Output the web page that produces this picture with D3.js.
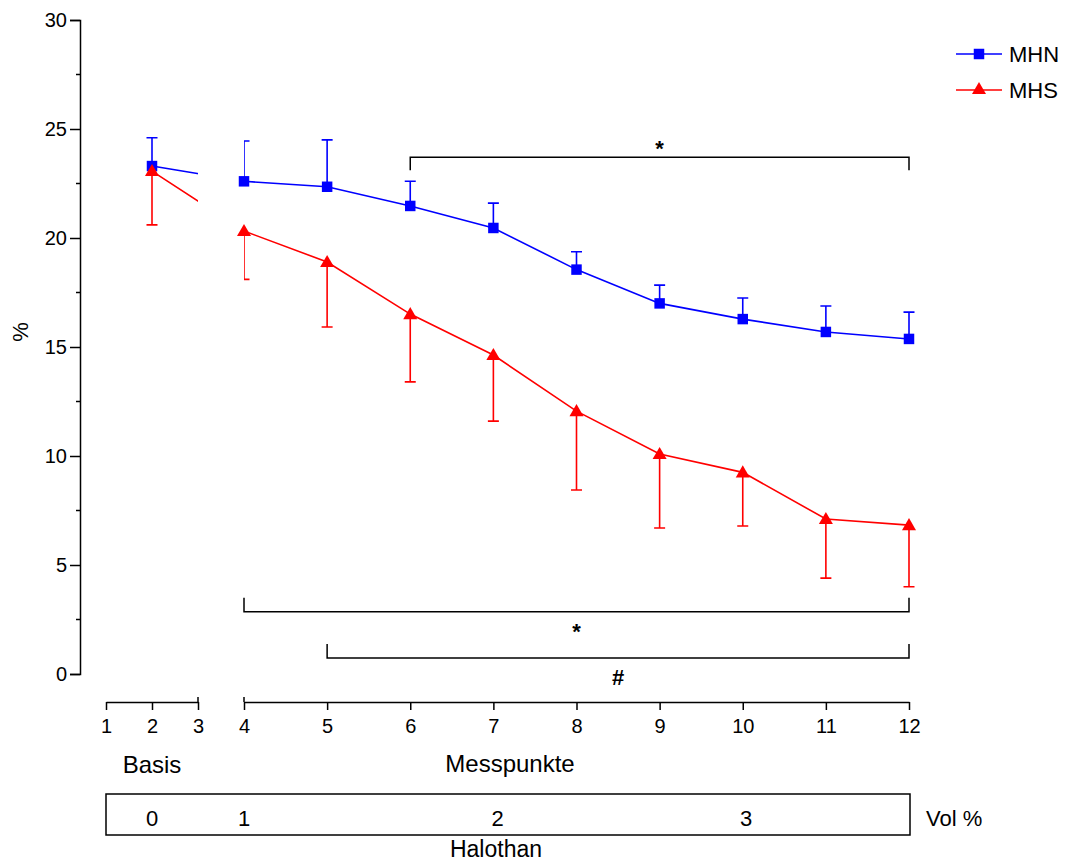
<!DOCTYPE html>
<html>
<head>
<meta charset="utf-8">
<script src="https://cdnjs.cloudflare.com/ajax/libs/d3/7.8.5/d3.min.js"></script>
<style>
  body { margin: 0; background: #fff; }
  svg text { font-family: "Liberation Sans", Arial, sans-serif; fill: #000; }
</style>
</head>
<body>
<svg id="chart" width="1068" height="863"></svg>
<script>
// measuring points (x) and values in %
var points = [2, 4, 5, 6, 7, 8, 9, 10, 11, 12];
var mhn = [23.3, 22.6, 22.35, 21.47, 20.46, 18.55, 17.0, 16.28, 15.69, 15.37];
var mhnErr = [1.3, 1.85, 2.15, 1.13, 1.14, 0.82, 0.84, 0.97, 1.19, 1.23];
var mhs = [23.07, 20.32, 18.9, 16.51, 14.63, 12.06, 10.09, 9.25, 7.11, 6.83];
var mhsErr = [2.47, 2.22, 2.98, 3.11, 3.03, 3.62, 3.39, 2.46, 2.71, 2.83];

var basisTicks = [1, 2, 3];
var mainTicks = [4, 5, 6, 7, 8, 9, 10, 11, 12];
var yTicks = [0, 5, 10, 15, 20, 25, 30];
var yMinor = [2.5, 7.5, 12.5, 17.5, 22.5, 27.5];

// halothan concentration labels (Vol %) and where they sit
var halothanVol = ["0", "1", "2", "3"];
var halothanAt = [2, 4, 7.05, 10.04];

// significance brackets: from, to, level (%), label
var brackets = [
  {from: 6, to: 12, y: 23.7, label: "*", above: true},
  {from: 4, to: 12, y: 2.85, label: "*", above: false},
  {from: 5, to: 12, y: 0.73, label: "#", above: false}
];

var svg = d3.select("#chart");

var y = d3.scaleLinear().domain([0, 30]).range([674, 20]);
var xb = d3.scaleLinear().domain([1, 3]).range([106, 198]);
var xm = d3.scaleLinear().domain([4, 12]).range([244, 909]);
function px(v) { return v <= 3 ? xb(v) : xm(v); }

// clip regions for the two axis segments (the break hides the gap)
var defs = svg.append("defs");
var clip = defs.append("clipPath").attr("id", "segs");
clip.append("rect").attr("x", xb(1) - 10).attr("y", 0)
  .attr("width", xb(3) - xb(1) + 10).attr("height", 700);
clip.append("rect").attr("x", xm(4)).attr("y", 0)
  .attr("width", xm(12) - xm(4) + 10).attr("height", 700);

// y axis
var yAxis = svg.append("g").attr("transform", "translate(80,0)")
  .call(d3.axisLeft(y).tickValues(yTicks).tickSize(10).tickPadding(3).tickFormat(d3.format("d")));
yAxis.select(".domain").attr("stroke-width", 1.5);
yAxis.selectAll(".tick line").attr("stroke-width", 1.5);
yAxis.selectAll("text").style("font-size", "20px").attr("font-family", null);
svg.append("g").selectAll("line").data(yMinor).join("line")
  .attr("x1", 76).attr("x2", 80)
  .attr("y1", d => y(d)).attr("y2", d => y(d))
  .attr("stroke", "#000").attr("stroke-width", 1.5);

svg.append("text").attr("transform", "translate(28,332) rotate(-90)")
  .attr("text-anchor", "middle").style("font-size", "22px").text("%");

// x axis, two segments
function styleX(g) {
  g.select(".domain").attr("stroke-width", 1.5);
  g.selectAll(".tick line").attr("stroke-width", 1.5);
  g.selectAll("text").style("font-size", "20px").attr("font-family", null);
}
svg.append("g").attr("transform", "translate(0,702)")
  .call(d3.axisBottom(xb).tickValues(basisTicks).tickSize(8).tickSizeOuter(0).tickPadding(9).tickFormat(d3.format("d")))
  .call(styleX);
svg.append("g").attr("transform", "translate(0,702)")
  .call(d3.axisBottom(xm).tickValues(mainTicks).tickSize(8).tickSizeOuter(0).tickPadding(9).tickFormat(d3.format("d")))
  .call(styleX);
// break marks at the inner ends
svg.append("g").selectAll("line").data([xb(3), xm(4)]).join("line")
  .attr("x1", d => d).attr("x2", d => d).attr("y1", 697).attr("y2", 702)
  .attr("stroke", "#000").attr("stroke-width", 1.5);

svg.append("text").attr("x", xb(2)).attr("y", 773).attr("text-anchor", "middle")
  .style("font-size", "24px").text("Basis");
svg.append("text").attr("x", 510).attr("y", 772).attr("text-anchor", "middle")
  .style("font-size", "24px").text("Messpunkte");

// halothan box
svg.append("rect").attr("x", xb(1)).attr("y", 794)
  .attr("width", xm(12) + 1 - xb(1)).attr("height", 41)
  .attr("fill", "none").attr("stroke", "#000").attr("stroke-width", 1.5);
svg.append("g").selectAll("text").data(halothanVol).join("text")
  .attr("x", (d, i) => px(halothanAt[i])).attr("y", 826)
  .attr("text-anchor", "middle").style("font-size", "22px").text(d => d);
svg.append("text").attr("x", 926).attr("y", 826).style("font-size", "22px").text("Vol %");
svg.append("text").attr("x", 496).attr("y", 857).attr("text-anchor", "middle")
  .style("font-size", "23px").text("Halothan");

// series
var series = [
  {name: "MHN", vals: mhn, err: mhnErr, dir: 1, color: "#0000ff", sym: d3.symbolSquare, size: 110},
  {name: "MHS", vals: mhs, err: mhsErr, dir: -1, color: "#ff0000", sym: d3.symbolTriangle, size: 85}
];

var line = d3.line().x(d => px(d[0])).y(d => y(d[1]));
var capW = 5.5;

series.forEach(function(s) {
  var data = points.map((p, i) => [p, s.vals[i], s.err[i]]);
  var g = svg.append("g");
  var clipped = g.append("g").attr("clip-path", "url(#segs)");
  clipped.append("path").datum(data).attr("d", line)
    .attr("fill", "none").attr("stroke", s.color).attr("stroke-width", 1.6);
  clipped.selectAll("path.err").data(data).join("path").attr("class", "err")
    .attr("d", d => {
      var x0 = px(d[0]), y0 = y(d[1]), y1 = y(d[1] + s.dir * d[2]);
      return "M" + x0 + "," + y0 + "V" + y1 + "M" + (x0 - capW) + "," + y1 + "H" + (x0 + capW);
    })
    .attr("fill", "none").attr("stroke", s.color).attr("stroke-width", 1.6);
  g.selectAll("path.mk").data(data).join("path").attr("class", "mk")
    .attr("transform", d => "translate(" + px(d[0]) + "," + (y(d[1]) + (s.dir < 0 ? 1 : 0)) + ")")
    .attr("d", d3.symbol().type(s.sym).size(s.size)).attr("fill", s.color);
});

// legend
var leg = svg.append("g").selectAll("g").data(series).join("g")
  .attr("transform", (d, i) => "translate(956," + (54 + i * 36) + ")");
leg.append("line").attr("x1", 0).attr("x2", 46)
  .attr("stroke", d => d.color).attr("stroke-width", 1.6);
leg.append("path").attr("transform", "translate(23,0)")
  .attr("d", d => d3.symbol().type(d.sym).size(d.size)()).attr("fill", d => d.color);
leg.append("text").attr("x", 53).attr("y", 8).style("font-size", "22px").text(d => d.name);

// significance brackets
var br = svg.append("g").selectAll("g").data(brackets).join("g");
br.append("path")
  .attr("d", d => {
    var yy = y(d.y), t = d.above ? 13 : -14;
    return "M" + xm(d.from) + "," + (yy + t) + "V" + yy + "H" + xm(d.to) + "V" + (yy + t);
  })
  .attr("fill", "none").attr("stroke", "#000").attr("stroke-width", 1.5);
br.append("text")
  .attr("x", d => xm((d.from + d.to) / 2))
  .attr("y", d => d.above ? y(d.y) - 1 : y(d.y) + 27)
  .attr("text-anchor", "middle").style("font-size", "22px").style("font-weight", "bold").text(d => d.label);
</script>
</body>
</html>
